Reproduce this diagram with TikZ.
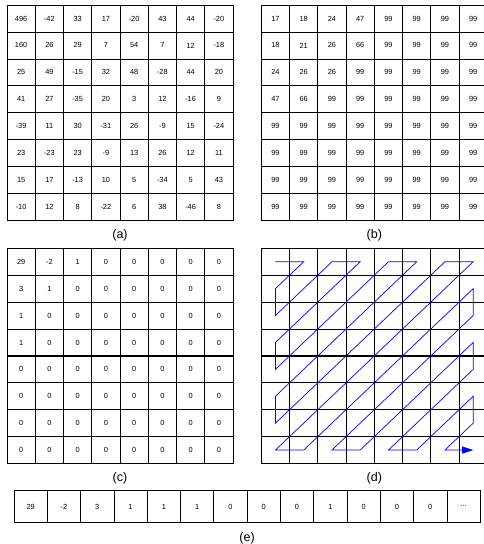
\documentclass[tikz,border=0pt]{standalone}
\usepackage{fontspec}
\setmainfont{Liberation Sans}
\usetikzlibrary{positioning, arrows.meta}
\definecolor{zzblue}{RGB}{0,0,255}

\begin{document}
\begin{tikzpicture}[
  x=1pt, y=-1pt,
  cell/.style={draw, line width=0.8pt, minimum width=28.25pt, minimum height=26.95pt,
               inner sep=0pt, outer sep=0pt, font=\fontsize{7.4}{8}\selectfont},
  ecell/.style={cell, minimum width=33.3pt, minimum height=31.6pt},
  lab/.style={inner sep=0pt, font=\fontsize{12.5}{14}\selectfont},
  zigzag/.style={zzblue, line width=0.7pt, line join=miter}
]
  \useasboundingbox (0,0) rectangle (484,544);

  \foreach \row [count=\r from 0] in {{496,-42,33,17,-20,43,44,-20},
      {160,26,29,7,54,7,12,-18}, {25,49,-15,32,48,-28,44,20},
      {41,27,-35,20,3,12,-16,9}, {-39,11,30,-31,26,-9,15,-24},
      {23,-23,23,-9,13,26,12,11}, {15,17,-13,10,5,-34,5,43},
      {-10,12,8,-22,6,38,-46,8}}
    \foreach \v [count=\c from 0] in \row
      \node[cell] (a-\r-\c) at ({7+28.25*(\c+0.5)}, {5+26.95*(\r+0.5)}) {\v};

  \foreach \row [count=\r from 0] in {{17,18,24,47,99,99,99,99},
      {18,21,26,66,99,99,99,99}, {24,26,26,99,99,99,99,99},
      {47,66,99,99,99,99,99,99}, {99,99,99,99,99,99,99,99},
      {99,99,99,99,99,99,99,99}, {99,99,99,99,99,99,99,99},
      {99,99,99,99,99,99,99,99}}
    \foreach \v [count=\c from 0] in \row
      \node[cell] (b-\r-\c) at ({261.3+28.25*(\c+0.5)}, {5+26.95*(\r+0.5)}) {\v};

  \foreach \row [count=\r from 0] in {{29,-2,1,0,0,0,0,0},
      {3,1,0,0,0,0,0,0}, {1,0,0,0,0,0,0,0}, {1,0,0,0,0,0,0,0},
      {0,0,0,0,0,0,0,0}, {0,0,0,0,0,0,0,0}, {0,0,0,0,0,0,0,0},
      {0,0,0,0,0,0,0,0}}
    \foreach \v [count=\c from 0] in \row
      \node[cell] (c-\r-\c) at ({7+28.25*(\c+0.5)}, {248.3+26.9*(\r+0.5)}) {\v};

  \foreach \r in {0,...,7}
    \foreach \c in {0,...,7}
      \node[cell] (d-\r-\c) at ({261.3+28.25*(\c+0.5)}, {248.3+26.9*(\r+0.5)}) {};

  \draw[zigzag, -{Triangle[length=11pt, width=7pt]}]
    (d-0-0.center) -- (d-0-1.center) -- (d-1-0.center) -- (d-2-0.center)
    -- (d-0-2.center) -- (d-0-3.center) -- (d-3-0.center) -- (d-4-0.center)
    -- (d-0-4.center) -- (d-0-5.center) -- (d-5-0.center) -- (d-6-0.center)
    -- (d-0-6.center) -- (d-0-7.center) -- (d-7-0.center) -- (d-7-1.center)
    -- (d-1-7.center) -- (d-2-7.center) -- (d-7-2.center) -- (d-7-3.center)
    -- (d-3-7.center) -- (d-4-7.center) -- (d-7-4.center) -- (d-7-5.center)
    -- (d-5-7.center) -- (d-6-7.center) -- (d-7-6.center) -- (d-7-7.center);

  \foreach \v [count=\i from 0] in {29,-2,3,1,1,1,0,0,0,1,0,0,0}
    \node[ecell] (e-\i) at ({14+33.3*(\i+0.5)}, 506.5) {\v};
  \node[ecell, right=0pt of e-12] (e-13) {...};

  \node[lab, below=8.5pt of a-7-3.south east] (la) {(a)};
  \node[lab, below=8.5pt of b-7-3.south east] (lb) {(b)};
  \node[lab, below=8.5pt of c-7-3.south east] (lc) {(c)};
  \node[lab, below=8.5pt of d-7-3.south east] (ld) {(d)};
  \node[lab, below=9.5pt of e-6.south east] (le) {(e)};
\end{tikzpicture}
\end{document}
